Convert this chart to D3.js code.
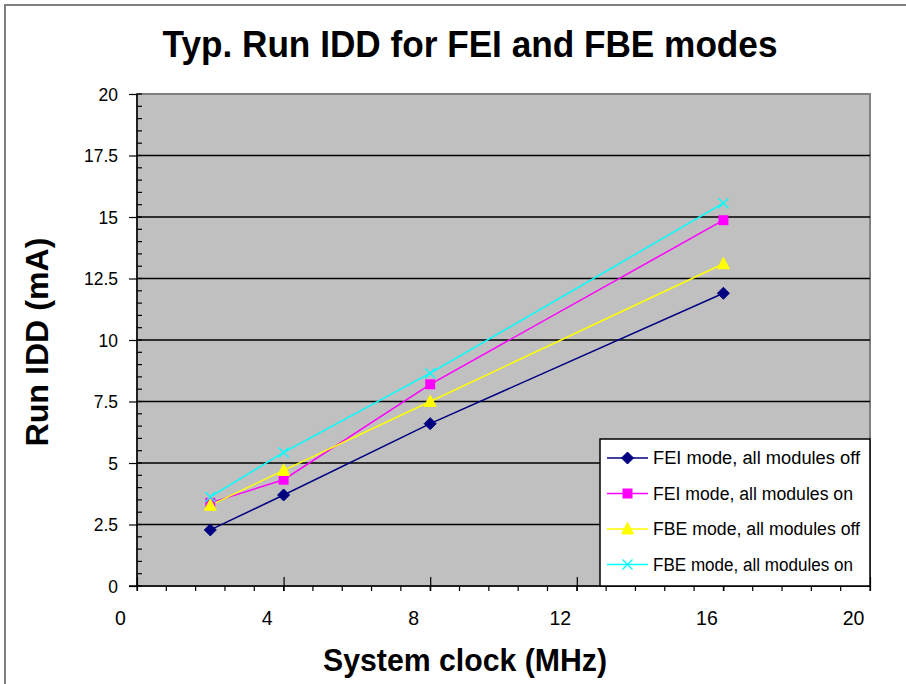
<!DOCTYPE html>
<html><head><meta charset="utf-8">
<script src="https://cdn.jsdelivr.net/npm/d3@7"></script>
<style>body{margin:0;background:#fff}svg{display:block;font-family:"Liberation Sans",Arial,sans-serif}</style>
</head><body>
<svg id="c" width="906" height="684"></svg>
<script>
const clockMHz = [2, 4, 8, 16];
const feiOff = [2.28, 3.7, 6.6, 11.9];
const feiOn = [3.38, 4.32, 8.2, 14.87];
const fbeOff = [3.28, 4.7, 7.5, 13.1];
const fbeOn = [3.62, 5.43, 8.65, 15.56];
const seriesNames = ["FEI mode, all modules off","FEI mode, all modules on","FBE mode, all modules off","FBE mode, all modules on"];
const xTicks = [0, 4, 8, 12, 16, 20];
const yTicks = [0, 2.5, 5, 7.5, 10, 12.5, 15, 17.5, 20];
const titleText = "Typ. Run IDD for FEI and FBE modes";
const xTitle = "System clock (MHz)";
const yTitle = "Run IDD (mA)";

const series = [
  {name: seriesNames[0], vals: feiOff, color: "#000080", marker: "diamond"},
  {name: seriesNames[1], vals: feiOn, color: "#FF00FF", marker: "square"},
  {name: seriesNames[2], vals: fbeOff, color: "#FFFF00", marker: "triangle"},
  {name: seriesNames[3], vals: fbeOn, color: "#00FFFF", marker: "x"}
];

const svg = d3.select("#c");
const L = 137, R = 870, T = 94, B = 586;
const x = d3.scaleLinear().domain([0, 20]).range([L, R]);
const y = d3.scaleLinear().domain([0, 20]).range([B, T]);

// outer chart border
svg.append("rect").attr("x", 5).attr("y", 5).attr("width", 920).attr("height", 700)
  .attr("fill", "#fff").attr("stroke", "#808080").attr("stroke-width", 2);

// plot area
svg.append("rect").attr("x", L).attr("y", T).attr("width", R - L).attr("height", B - T)
  .attr("fill", "#C0C0C0").attr("stroke", "#808080").attr("stroke-width", 2);

// gridlines
svg.append("g").selectAll("line").data(yTicks.filter(d => d > 0 && d < 20)).join("line")
  .attr("x1", L).attr("x2", R).attr("y1", d => y(d)).attr("y2", d => y(d))
  .attr("stroke", "#000").attr("stroke-width", 1.5);

// y axis
const yAxis = svg.append("g").attr("transform", `translate(${L},0)`)
  .call(d3.axisLeft(y).tickValues(yTicks).tickSize(8).tickPadding(11).tickFormat(d3.format("")));
yAxis.select(".domain").remove();
yAxis.selectAll("text").attr("font-size", 19).attr("fill", "#000").attr("font-family", "Liberation Sans, Arial")
  .attr("transform", "scale(0.92,1)").attr("x", -19/0.92*1 + 0);
yAxis.selectAll("line").attr("stroke", "#000").attr("stroke-width", 1.2);
svg.append("g").selectAll("line").data(d3.range(0, 20.001, 0.5)).join("line")
  .attr("x1", L).attr("x2", L + 5).attr("y1", d => y(d)).attr("y2", d => y(d))
  .attr("stroke", "#000").attr("stroke-width", 1.2);

// x axis
const xAxis = svg.append("g").attr("transform", `translate(0,${B})`)
  .call(d3.axisBottom(x).tickValues(xTicks).tickSize(5).tickPadding(20).tickFormat(d3.format("")));
xAxis.select(".domain").remove();
xAxis.selectAll("text").attr("font-size", 19.5).attr("fill", "#000").attr("dx", -17).attr("font-family", "Liberation Sans, Arial");
xAxis.selectAll("line").attr("stroke", "#000").attr("stroke-width", 1.2).attr("y1", -9);
svg.append("g").selectAll("line").data(d3.range(0, 20.001, 0.8)).join("line")
  .attr("x1", d => x(d)).attr("x2", d => x(d)).attr("y1", B).attr("y2", B + 5)
  .attr("stroke", "#000").attr("stroke-width", 1.2);

// axis lines
svg.append("line").attr("x1", L).attr("x2", L).attr("y1", T).attr("y2", B).attr("stroke", "#000").attr("stroke-width", 1.5);
svg.append("line").attr("x1", L - 8).attr("x2", R).attr("y1", B).attr("y2", B).attr("stroke", "#000").attr("stroke-width", 1.5);

// markers
function drawMarker(g, type, color, cx, cy) {
  if (type === "diamond") {
    g.append("path").attr("d", `M${cx},${cy-6}L${cx+6},${cy}L${cx},${cy+6}L${cx-6},${cy}Z`).attr("fill", color).attr("stroke", color);
  } else if (type === "square") {
    g.append("rect").attr("x", cx-5).attr("y", cy-5).attr("width", 10).attr("height", 10).attr("fill", color);
  } else if (type === "triangle") {
    g.append("path").attr("d", `M${cx},${cy-6.5}L${cx+6},${cy+5}L${cx-6},${cy+5}Z`).attr("fill", color).attr("stroke", color);
  } else {
    g.append("path").attr("d", `M${cx-5},${cy-5}L${cx+5},${cy+5}M${cx-5},${cy+5}L${cx+5},${cy-5}`).attr("stroke", color).attr("stroke-width", 1.3).attr("fill", "none");
  }
}

const line = d3.line().x(d => x(d[0])).y(d => y(d[1]));
series.forEach(s => {
  const pts = clockMHz.map((c, i) => [c, s.vals[i]]);
  svg.append("path").datum(pts).attr("d", line).attr("fill", "none").attr("stroke", s.color).attr("stroke-width", 1.5);
});
series.forEach(s => {
  const g = svg.append("g");
  clockMHz.forEach((c, i) => drawMarker(g, s.marker, s.color, x(c), y(s.vals[i])));
});

// legend
const lg = svg.append("g");
lg.append("rect").attr("x", 600).attr("y", 439).attr("width", 270).attr("height", 147)
  .attr("fill", "#fff").attr("stroke", "#000").attr("stroke-width", 1.5);
series.forEach((s, i) => {
  const cy = 458 + i * 35.5;
  lg.append("line").attr("x1", 607).attr("x2", 648).attr("y1", cy).attr("y2", cy).attr("stroke", s.color).attr("stroke-width", 1.5);
  drawMarker(lg, s.marker, s.color, 627.5, cy);
  lg.append("text").attr("x", 653).attr("y", cy).attr("dy", "0.35em").attr("font-size", 18)
    .attr("textLength", i % 2 === 0 ? 207 : 200).attr("lengthAdjust", "spacingAndGlyphs").attr("fill", "#000").text(s.name);
});

// titles
svg.append("text").attr("x", 470).attr("y", 44).attr("dy", "0.35em").attr("text-anchor", "middle")
  .attr("font-size", 37).attr("font-weight", "bold").attr("textLength", 615).attr("lengthAdjust", "spacingAndGlyphs").text(titleText);
svg.append("text").attr("x", 465).attr("y", 660).attr("dy", "0.35em").attr("text-anchor", "middle")
  .attr("font-size", 31).attr("font-weight", "bold").attr("textLength", 284).attr("lengthAdjust", "spacingAndGlyphs").text(xTitle);
svg.append("text").attr("transform", "translate(37,342) rotate(-90)").attr("dy", "0.35em").attr("text-anchor", "middle")
  .attr("font-size", 31).attr("font-weight", "bold").attr("textLength", 209).attr("lengthAdjust", "spacingAndGlyphs").text(yTitle);
</script>
</body></html>
